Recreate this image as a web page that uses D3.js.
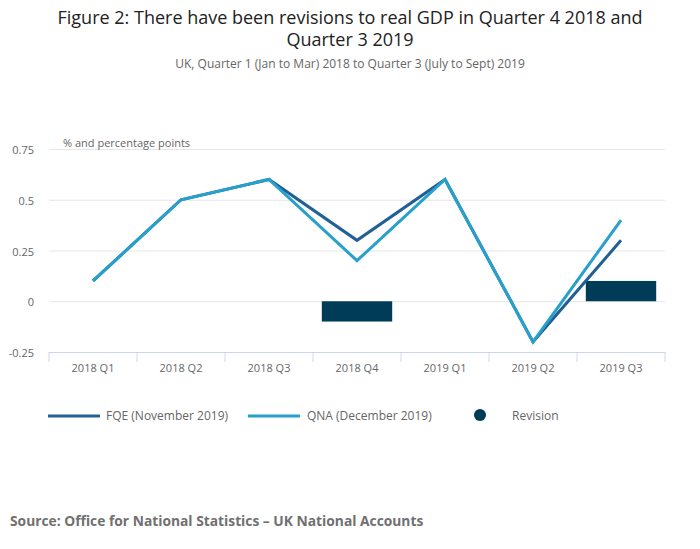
<!DOCTYPE html>
<html>
<head>
<meta charset="utf-8">
<script src="https://cdn.jsdelivr.net/npm/d3@7"></script>
<style>
  body { margin: 0; background: #fff; }
  text { font-family: "Open Sans", sans-serif; }
</style>
</head>
<body>
<div id="chart"></div>
<script>
// quarters on the x axis
const quarters = ['2018 Q1', '2018 Q2', '2018 Q3', '2018 Q4', '2019 Q1', '2019 Q2', '2019 Q3'];
// first quarterly estimate, November 2019
const fqe = [0.1, 0.5, 0.6, 0.3, 0.6, -0.2, 0.3];
// quarterly national accounts, December 2019
const qna = [0.1, 0.5, 0.6, 0.2, 0.6, -0.2, 0.4];
// revision in percentage points
const revision = [0, 0, 0, -0.1, 0, 0, 0.1];
const yTicks = [-0.25, 0, 0.25, 0.5, 0.75];

const W = 700, H = 549;
const margin = { left: 49, right: 35, top: 149, bottom: 197 };

const svg = d3.select('#chart')
  .append('svg')
    .attr('width', W)
    .attr('height', H);

const x = d3.scaleBand()
  .domain(quarters)
  .range([margin.left, W - margin.right])
  .paddingInner(0.2)
  .paddingOuter(0.1);

const xEdge = d3.scaleBand()
  .domain(quarters)
  .range([margin.left, W - margin.right]);

const y = d3.scaleLinear()
  .domain([-0.25, 0.75])
  .range([H - margin.bottom, margin.top]);

// titles
svg.append('text')
  .attr('x', W / 2).attr('y', 24)
  .attr('text-anchor', 'middle')
  .style('font-size', '18px').style('fill', '#222')
  .text('Figure 2: There have been revisions to real GDP in Quarter 4 2018 and');
svg.append('text')
  .attr('x', W / 2).attr('y', 46)
  .attr('text-anchor', 'middle')
  .style('font-size', '18px').style('fill', '#222')
  .text('Quarter 3 2019');
svg.append('text')
  .attr('x', W / 2).attr('y', 68)
  .attr('text-anchor', 'middle')
  .style('font-size', '12px').style('fill', '#666')
  .text('UK, Quarter 1 (Jan to Mar) 2018 to Quarter 3 (July to Sept) 2019');

// gridlines
svg.append('g')
  .selectAll('line')
  .data(yTicks.filter(d => d !== -0.25))
  .enter().append('line')
    .attr('x1', margin.left).attr('x2', W - margin.right)
    .attr('y1', d => y(d) + 0.5).attr('y2', d => y(d) + 0.5)
    .attr('stroke', '#e6e6e6');

// y axis labels
svg.append('g')
  .selectAll('text')
  .data(yTicks)
  .enter().append('text')
    .attr('x', 34)
    .attr('y', d => y(d) + 5)
    .attr('text-anchor', 'end')
    .style('font-size', '11px').style('fill', '#666')
    .text(d => d);

svg.append('text')
  .attr('x', 63).attr('y', 147)
  .style('font-size', '11px').style('fill', '#666')
  .text('% and percentage points');

// x axis
svg.append('line')
  .attr('x1', margin.left).attr('x2', W - margin.right)
  .attr('y1', y(-0.25) + 0.5).attr('y2', y(-0.25) + 0.5)
  .attr('stroke', '#ccd6eb');

svg.append('g')
  .selectAll('line')
  .data(quarters.concat(['end']))
  .enter().append('line')
    .attr('x1', d => d === 'end' ? W - margin.right : xEdge(d))
    .attr('x2', d => d === 'end' ? W - margin.right : xEdge(d))
    .attr('y1', y(-0.25))
    .attr('y2', y(-0.25) + 10)
    .attr('stroke', '#ccd6eb');

svg.append('g')
  .selectAll('text')
  .data(quarters)
  .enter().append('text')
    .attr('x', d => xEdge(d) + xEdge.bandwidth() / 2)
    .attr('y', y(-0.25) + 20)
    .attr('text-anchor', 'middle')
    .style('font-size', '11px').style('fill', '#666')
    .text(d => d);

// revision bars
svg.append('g')
  .selectAll('rect')
  .data(revision.map((v, i) => ({ q: quarters[i], v: v })).filter(d => d.v !== 0))
  .enter().append('rect')
    .attr('x', d => x(d.q))
    .attr('width', x.bandwidth())
    .attr('y', d => y(Math.max(0, d.v)))
    .attr('height', d => Math.abs(y(d.v) - y(0)))
    .attr('fill', '#003c57');

// lines
const line = d3.line()
  .x((d, i) => xEdge(quarters[i]) + xEdge.bandwidth() / 2)
  .y(d => y(d));

svg.append('path')
  .datum(fqe)
  .attr('fill', 'none')
  .attr('stroke', '#206095')
  .attr('stroke-width', 3)
  .attr('d', line);

svg.append('path')
  .datum(qna)
  .attr('fill', 'none')
  .attr('stroke', '#27a0cc')
  .attr('stroke-width', 3)
  .attr('d', line);

// legend
const legend = svg.append('g').attr('transform', 'translate(0, 416)');

legend.append('line')
  .attr('x1', 48).attr('x2', 100)
  .attr('stroke', '#206095').attr('stroke-width', 3);
legend.append('text')
  .attr('x', 106).attr('y', 4)
  .style('font-size', '12px').style('fill', '#666')
  .text('FQE (November 2019)');

legend.append('line')
  .attr('x1', 248).attr('x2', 300)
  .attr('stroke', '#27a0cc').attr('stroke-width', 3);
legend.append('text')
  .attr('x', 307).attr('y', 4)
  .style('font-size', '12px').style('fill', '#666')
  .text('QNA (December 2019)');

legend.append('circle')
  .attr('cx', 480).attr('cy', -1).attr('r', 6)
  .attr('fill', '#003c57');
legend.append('text')
  .attr('x', 512).attr('y', 4)
  .style('font-size', '12px').style('fill', '#666')
  .text('Revision');

// source
svg.append('text')
  .attr('x', 10).attr('y', 526)
  .style('font-size', '13.8px').style('font-weight', 'bold').style('fill', '#707070')
  .text('Source: Office for National Statistics \u2013 UK National Accounts');
</script>
</body>
</html>
